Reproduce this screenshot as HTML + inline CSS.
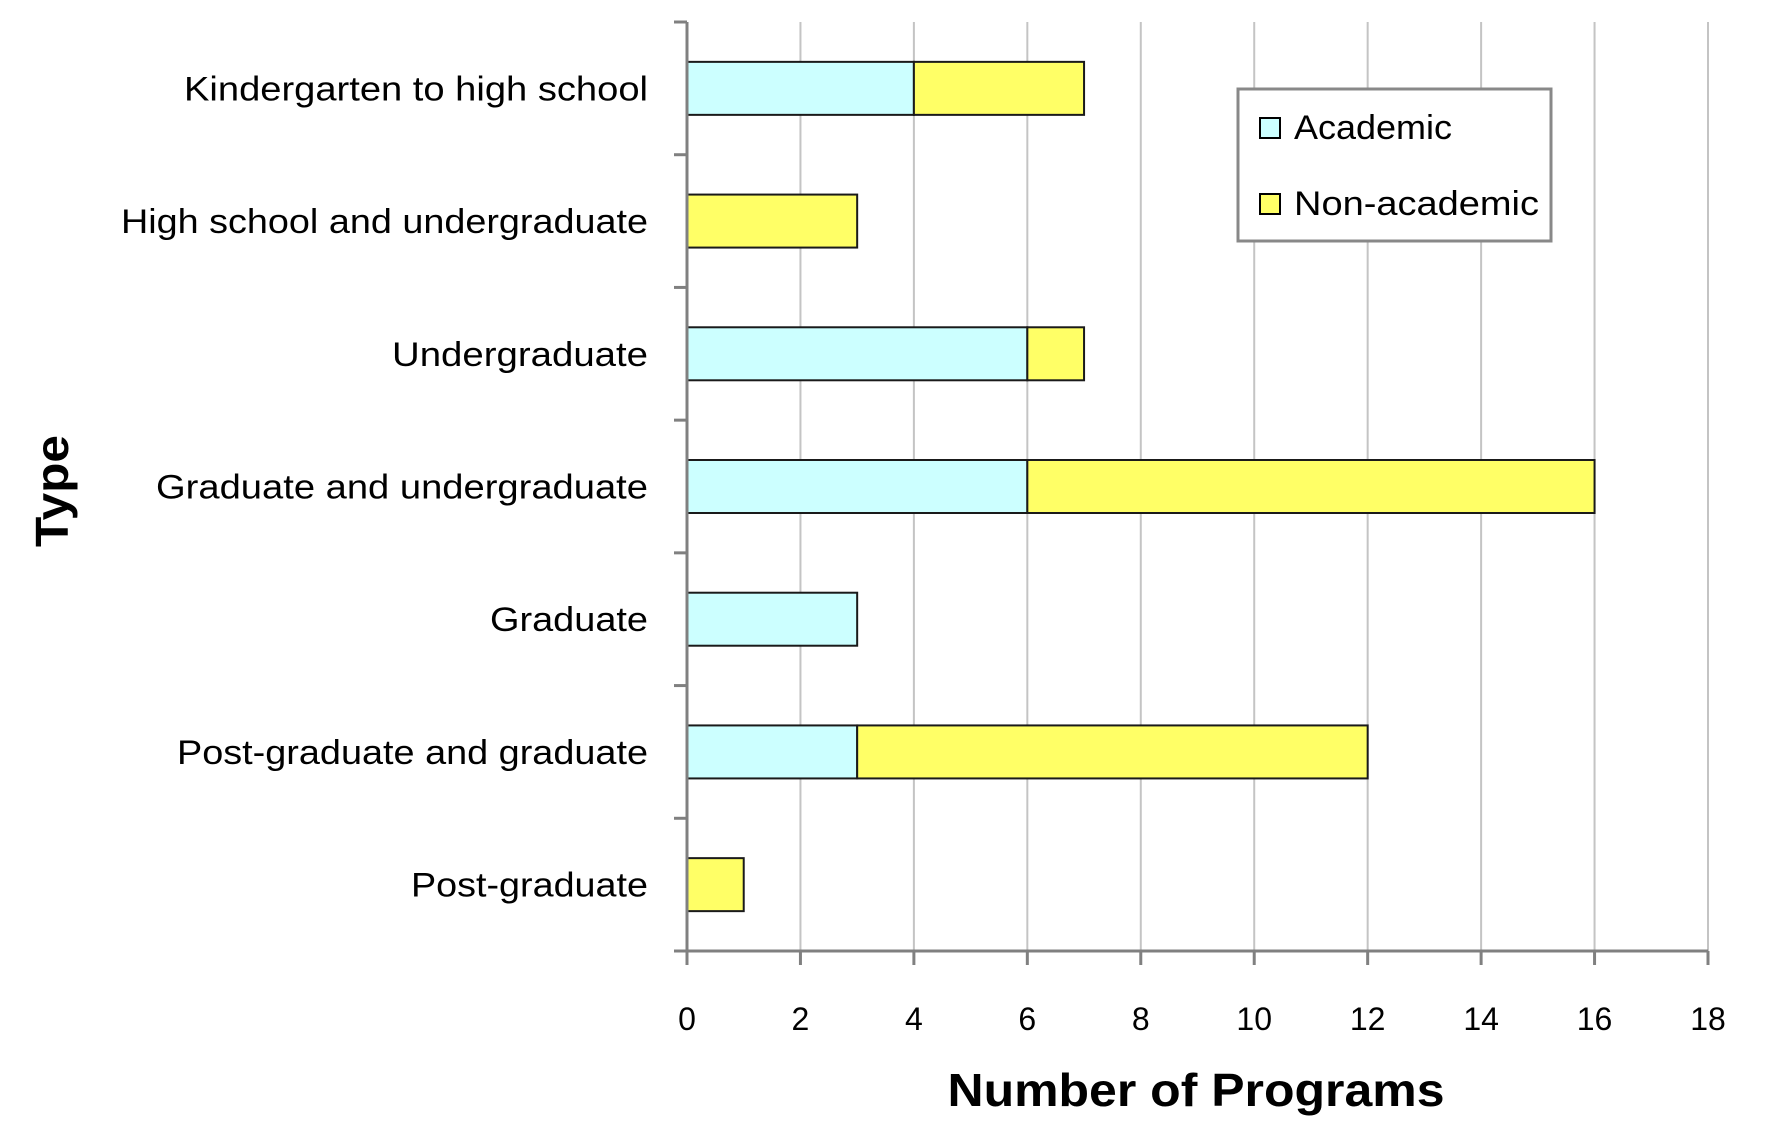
<!DOCTYPE html>
<html><head><meta charset="utf-8"><style>
html,body{margin:0;padding:0;background:#fff;}
svg{display:block;font-family:"Liberation Sans",sans-serif;}
</style></head><body>
<svg id="chart" width="1772" height="1121" viewBox="0 0 1772 1121" xmlns="http://www.w3.org/2000/svg">
<g id="grid"></g>
<g id="bars"></g>
<g id="axes"></g>
<text transform="translate(68,491) rotate(-90)" text-anchor="middle" font-size="46" font-weight="bold" textLength="112" lengthAdjust="spacingAndGlyphs">Type</text>
<text x="1196" y="1106" text-anchor="middle" font-size="46" font-weight="bold" textLength="497" lengthAdjust="spacingAndGlyphs">Number of Programs</text>
<g>
<rect x="1238" y="89" width="313" height="152" fill="#fff" stroke="#888" stroke-width="3"/>
<rect x="1260" y="118" width="20" height="20" fill="#ccffff" stroke="#000" stroke-width="2"/>
<text x="1294" y="139" font-size="34" textLength="158" lengthAdjust="spacingAndGlyphs">Academic</text>
<rect x="1260" y="194" width="20" height="20" fill="#ffff66" stroke="#000" stroke-width="2"/>
<text x="1294" y="215" font-size="34" textLength="245" lengthAdjust="spacingAndGlyphs">Non-academic</text>
</g>
</svg>
<script>
const categories = ["Kindergarten to high school","High school and undergraduate","Undergraduate","Graduate and undergraduate","Graduate","Post-graduate and graduate","Post-graduate"];
const academic = [4,0,6,6,3,3,0];
const nonAcademic = [3,3,1,10,0,9,1];
const xTicks = [0,2,4,6,8,10,12,14,16,18];
const labelWidths = [464,527,256,492,158,471,237];

const NS="http://www.w3.org/2000/svg";
const X0=687, X1=1708, XMAX=18, YTOP=22, YBOT=951;
const band=(YBOT-YTOP)/categories.length, barH=53;
function xs(v){return X0+(v/XMAX)*(X1-X0);}
function bandCenter(i){return YTOP+band*(i+0.5);}
function mk(tag,attrs,parent){const e=document.createElementNS(NS,tag);for(const k in attrs)e.setAttribute(k,attrs[k]);parent.appendChild(e);return e;}
const grid=document.getElementById('grid'),bars=document.getElementById('bars'),axes=document.getElementById('axes');
xTicks.forEach(t=>{
  if(t>0){const g=mk('line',{x1:xs(t),x2:xs(t),y1:YTOP,y2:YBOT,stroke:'#c4c4c4','stroke-width':2},grid);
  
  }
  const tk=mk('line',{x1:xs(t),x2:xs(t),y1:YBOT,y2:YBOT+14,stroke:'#808080','stroke-width':3},axes);
  
  
  const lb=mk('text',{x:xs(t),y:1030,'text-anchor':'middle','font-size':32},axes);
  lb.textContent=t;
  
  
});
categories.forEach((c,i)=>{
  const cy=bandCenter(i);
  const a=academic[i], n=nonAcademic[i];
  if(a>0){const r=mk('rect',{x:xs(0),y:cy-barH/2,width:xs(a)-xs(0),height:barH,fill:'#ccffff',stroke:'#1a1a1a','stroke-width':2},bars);
    
    }
  if(n>0){const r=mk('rect',{x:xs(a),y:cy-barH/2,width:xs(a+n)-xs(a),height:barH,fill:'#ffff66',stroke:'#1a1a1a','stroke-width':2},bars);
    
    }
  const lb=mk('text',{x:648,y:cy+12,'text-anchor':'end','font-size':34,textLength:labelWidths[i],lengthAdjust:'spacingAndGlyphs'},axes);
  lb.textContent=c;
  
  
});
for(let i=0;i<=categories.length;i++){
  const y=YTOP+band*i;
  const t=mk('line',{x1:674,x2:X0,y1:y,y2:y,stroke:'#808080','stroke-width':3},axes);
  
  
}
const ya=mk('line',{x1:X0,x2:X0,y1:YTOP,y2:YBOT,stroke:'#808080','stroke-width':3},axes);


const xa=mk('line',{x1:674,x2:X1,y1:YBOT,y2:YBOT,stroke:'#808080','stroke-width':3},axes);


</script>
</body></html>
